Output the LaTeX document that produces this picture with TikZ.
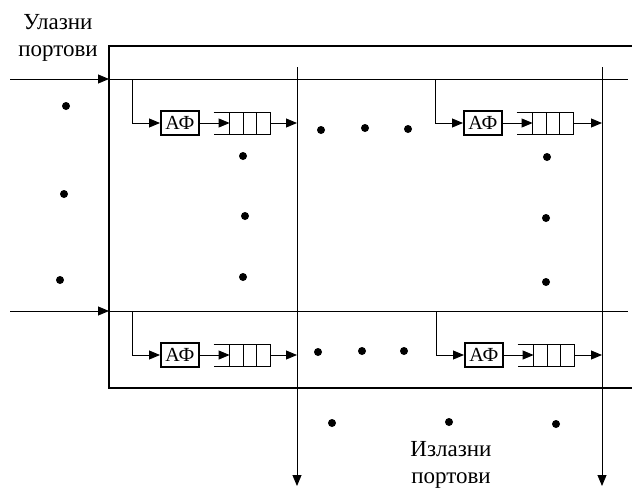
\documentclass[tikz,border=0pt]{standalone}
\usepackage{fontspec}
\setmainfont{Liberation Serif}
\usetikzlibrary{arrows.meta, positioning}

\begin{document}
\begin{tikzpicture}[
    x=1pt, y=-1pt,
    line width=0.9pt,
    arrow/.style={-{Triangle[length=11pt, width=9pt]}},
    afbox/.style={rectangle, draw, line width=1.6pt, minimum width=38pt, minimum height=24pt, inner sep=0pt, font=\fontsize{20}{20}\selectfont},
    queue/.style={rectangle, minimum width=56pt, minimum height=21pt, inner sep=0pt},
    portlabel/.style={align=center, inner sep=0pt, font=\fontsize{23}{27}\selectfont}
]
    \useasboundingbox (0,0) rectangle (632,488);

    % Switch frame, open on the right
    \draw[line width=1.8pt] (632,46) -| (109,388) -- (632,388);

    % Port labels
    \node[portlabel] (inlabel) at (58,38) {Улазни\\портови};
    \node[portlabel] (outlabel) at (451,465) {Излазни\\портови};

    % Input buses
    \coordinate (in1) at (10,79);   \coordinate (bus1) at (109,79);  \coordinate (end1) at (628,79);
    \coordinate (in2) at (10,311);  \coordinate (bus2) at (109,311); \coordinate (end2) at (628,311);
    \draw[arrow] (in1) -- (bus1);
    \draw (bus1) -- (end1);
    \draw[arrow] (in2) -- (bus2);
    \draw (bus2) -- (end2);

    % Output lines
    \coordinate (o1) at (297,67);  \coordinate (out1) at (297,486);
    \coordinate (o2) at (602,67);  \coordinate (out2) at (602,486);
    \draw[arrow] (o1) -- (out1);
    \draw[arrow] (o2) -- (out2);

    % Crosspoints: address filter + output queue
    \foreach \n/\tx/\ty/\o in {a/132/79/o1, b/435/79/o2, c/132/311/o1, d/436/311/o2} {
        \coordinate (tap\n) at (\tx,\ty);
        \node[afbox, anchor=west] (af\n) at (\tx+28,\ty+44) {АФ};
        \node[queue, right=14pt of af\n] (q\n) {};
        \draw (q\n.north west) -- (q\n.north east) -- (q\n.south east) -- (q\n.south west);
        \foreach \k in {16,29.5,43}
            \draw ([xshift=\k pt]q\n.north west) -- ([xshift=\k pt]q\n.south west);
        \draw[arrow] (tap\n) |- (af\n.west);
        \draw[arrow] (af\n.east) -- ([xshift=16pt]q\n.west);
        \draw[arrow] (q\n.east) -- (q\n.east -| \o);
    }

    % Ellipsis dots
    \foreach \p in {(66,106),(64,194),(60,280),
                    (321,130),(365,128),(408,129),
                    (243,156),(245,216),(243,277),
                    (547,157),(546,218),(546,282),
                    (318,352),(362,351),(404,351),
                    (332,423),(449,422),(556,424)}
        \fill \p circle[radius=4pt];
\end{tikzpicture}
\end{document}
